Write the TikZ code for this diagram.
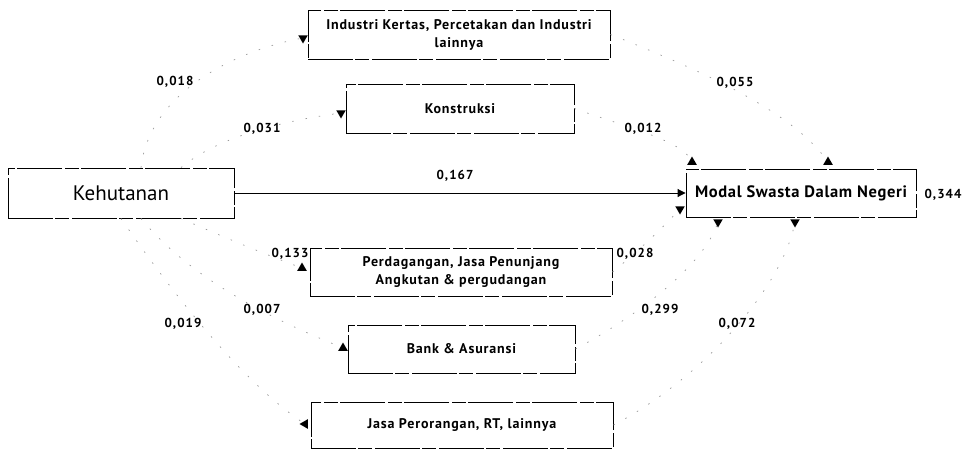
\documentclass[tikz,border=0pt]{standalone}
\usepackage{fontspec}
\setmainfont{PT Sans}
\usetikzlibrary{shapes.geometric,arrows.meta}

\tikzset{
  box/.style={draw=black, line width=0.9pt, inner sep=0pt, align=center,
              dash pattern=on 45pt off 2pt on 14pt off 3pt,
              font={\bfseries\fontsize{14}{18}\selectfont\addfontfeatures{LetterSpace=6}}},
  tipmark/.style={regular polygon, regular polygon sides=3, fill=black,
                  draw=none, inner sep=0pt, minimum size=11pt},
  tipdown/.style={tipmark, shape border rotate=180},
  tipup/.style={tipmark},
  tipleft/.style={tipmark, shape border rotate=90},
  link/.style={draw=black!40, line width=0.7pt, dash pattern=on 1.5pt off 12pt},
  coef/.style={font={\bfseries\fontsize{13}{15}\selectfont\addfontfeatures{LetterSpace=8}}, inner sep=0pt}
}

\begin{document}
\begin{tikzpicture}[x=1pt,y=-1pt]
\useasboundingbox (0,0) rectangle (963,450);

% variables
\node[box, minimum width=226pt, minimum height=50pt,
      font=\fontsize{21}{24}\selectfont] (keh) at (121,193) {Kehutanan};
\node[box, minimum width=230pt, minimum height=48pt,
      font={\bfseries\fontsize{16.5}{20}\selectfont\addfontfeatures{LetterSpace=4}}] (mod) at (801,193) {Modal Swasta Dalam Negeri};

\node[box, minimum width=302pt, minimum height=49pt] (ind) at (459,34.5)
  {Industri Kertas, Percetakan dan Industri\\lainnya};
\node[box, minimum width=228pt, minimum height=49pt] (kon) at (460,108.5) {Konstruksi};
\node[box, minimum width=302pt, minimum height=48pt] (per) at (461,272)
  {Perdagangan, Jasa Penunjang\\Angkutan \& pergudangan};
\node[box, minimum width=227pt, minimum height=48pt] (bank) at (461.5,349) {Bank \& Asuransi};
\node[box, minimum width=302pt, minimum height=46pt] (jasa) at (462,425) {Jasa Perorangan, RT, lainnya};

% arrow tips
\node[tipdown] (tInd) at (303,38) {};
\node[tipdown] (tKon) at (341,113) {};
\node[tipup]   (tM1)  at (692,162) {};
\node[tipup]   (tM2)  at (828,162) {};
\node[tipdown] (tM3)  at (680,209) {};
\node[tipdown] (tM4)  at (718,222) {};
\node[tipdown] (tM5)  at (795,222) {};
\node[tipup]   (tPer) at (302,268) {};
\node[tipup]   (tBank) at (343,348) {};
\node[tipleft] (tJas) at (305,424) {};

% direct effect
\draw[line width=0.9pt, -{Triangle[length=8pt,width=8pt]}] (keh.east) -- (mod.west);

% paths through the sectors
\draw[link] ([xshift=20pt]keh.north) .. controls (150,90) and (240,50) .. (tInd);
\draw[link] ([xshift=60pt]keh.north) .. controls (220,135) and (290,120) .. (tKon);
\draw[link] (ind.east) .. controls (700,70) and (790,110) .. (tM2);
\draw[link] (kon.east) .. controls (620,125) and (680,140) .. (tM1);

\draw[link] ([xshift=60pt]keh.south) .. controls (230,240) and (280,260) .. (tPer);
\draw[link] ([xshift=20pt]keh.south) .. controls (200,290) and (300,330) .. (tBank);
\draw[link] (keh.south) .. controls (170,290) and (240,380) .. (tJas);
\draw[link] (per.east) .. controls (640,250) and (665,225) .. (tM3);
\draw[link] (bank.east) .. controls (630,320) and (700,270) .. (tM4);
\draw[link] (jasa.east) .. controls (700,380) and (780,290) .. (tM5);

% coefficients
\node[coef] (c1)  at (175,82)  {0,018};
\node[coef] (c2)  at (262,129) {0,031};
\node[coef] (c3)  at (735,83)  {0,055};
\node[coef] (c4)  at (643,129) {0,012};
\node[coef] (c5)  at (455,176) {0,167};
\node[coef] (c6)  at (290,254) {0,133};
\node[coef] (c7)  at (635,254) {0,028};
\node[coef] (c8)  at (262,310) {0,007};
\node[coef] (c9)  at (183,324) {0,019};
\node[coef] (c10) at (660,310) {0,299};
\node[coef] (c11) at (737,324) {0,072};
\node[coef] (c12) at (943,195) {0,344};
\end{tikzpicture}
\end{document}
